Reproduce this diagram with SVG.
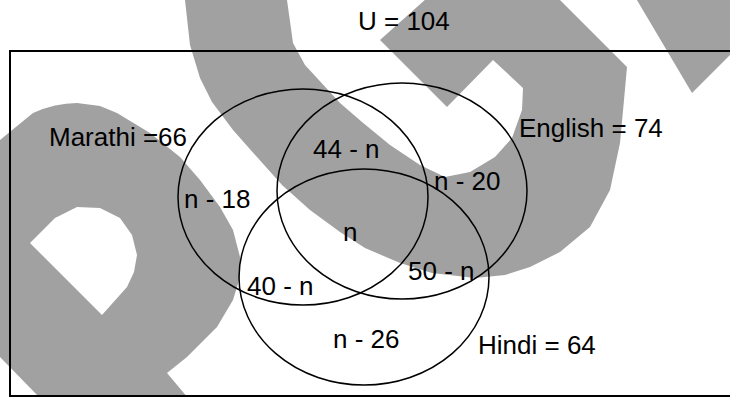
<svg xmlns="http://www.w3.org/2000/svg" width="730" height="397" viewBox="0 0 730 397">
<style>
.wm{fill:#a1a1a1;stroke:none}
.set{fill:none;stroke:#000;stroke-width:1.5}
.box{fill:none;stroke:#000;stroke-width:2}
text{font-family:"Liberation Sans",Arial,sans-serif;font-size:26px;fill:#000}
</style>
<rect width="730" height="397" fill="#fff"/>
<g id="watermark">
<path class="wm" fill-rule="evenodd" d="M0,140 L33,113 Q55,103 77,103 L100,106 L117,113 L150,133 L180,157 L200,180 L220,207 L233,230 L240,257 L240,277 L233,300 L217,327 L187,357 L167,373 L188,398 L40,398 L0,357 Z M30,243 L55,218 L77,207 L100,208 L120,218 L132,235 L137,255 L134,272 L127,287 L102,315 Z"/>
<path class="wm" d="M183,-10 L185,0 L190,45 L200,78 L212,102 L233,130 L257,157 L282,185 L310,210 L340,232 L365,248 L400,263 L432,273 L475,278 L505,275 L530,267 L560,252 L590,227 L610,190 L620,143 L624,100 L627,67 L550,-10 L436,-10 L380,40 L447,107 L493,60 L523,88 L522,110 L512,138 L495,157 L470,172 L445,177 L420,165 L390,145 L362,122 L340,103 L317,78 L305,65 L293,43 L287,0 L286,-10 Z"/>
<path class="wm" d="M631,-10 L740,-10 L740,45 L692,93 Z"/>
</g>
<g id="universe">
<rect class="box" x="10" y="51" width="730" height="345"/>
<text x="358" y="30">U = 104</text>
</g>
<g id="connectors"></g>
<g id="marathi">
<ellipse class="set" cx="303" cy="197" rx="125" ry="108"/>
<text x="49" y="146">Marathi =66</text>
</g>
<g id="english">
<ellipse class="set" cx="402" cy="191" rx="125" ry="108"/>
<text x="519" y="137">English = 74</text>
</g>
<g id="hindi">
<ellipse class="set" cx="364" cy="277" rx="125" ry="108"/>
<text x="478" y="354">Hindi = 64</text>
</g>
<g id="regions">
<text x="313" y="158">44 - n</text>
<text x="184" y="208">n - 18</text>
<text x="434" y="190">n - 20</text>
<text x="343" y="241">n</text>
<text x="247" y="295">40 - n</text>
<text x="408" y="280">50 - n</text>
<text x="333" y="348">n - 26</text>
</g>
</svg>
